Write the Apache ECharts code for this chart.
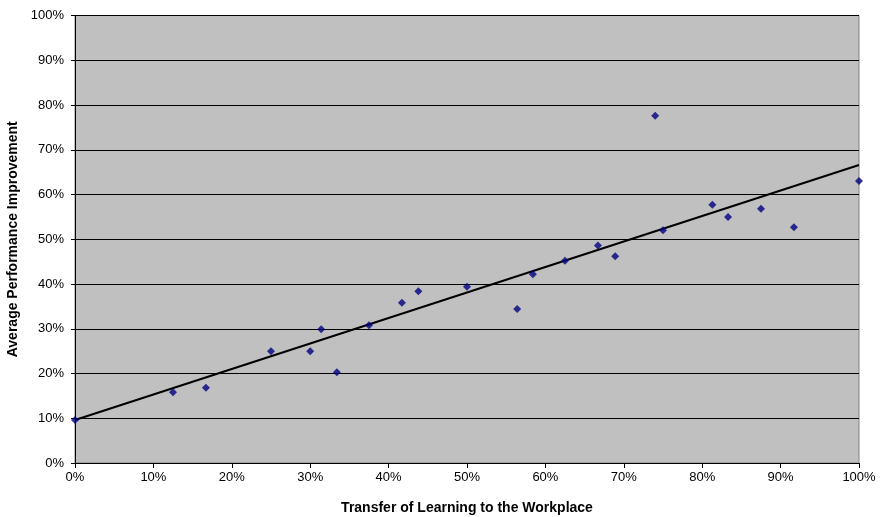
<!DOCTYPE html>
<html><head><meta charset="utf-8">
<script src="https://cdn.jsdelivr.net/npm/echarts@6/dist/echarts.min.js"></script>
<style>html,body{margin:0;padding:0;background:#fff}#c{width:880px;height:517px}</style>
</head><body><div id="c"></div>
<script>
const transfer = [0, 12.5, 16.7, 25.0, 30.0, 31.4, 33.4, 37.5, 41.7, 43.8, 50.0, 56.4, 58.4, 62.5, 66.7, 68.9, 74.0, 75.0, 81.3, 83.3, 87.5, 91.7, 100];
const improvement = [9.6, 15.8, 16.8, 25.0, 25.0, 29.9, 20.3, 30.8, 35.8, 38.4, 39.4, 34.4, 42.2, 45.2, 48.6, 46.2, 77.6, 52.0, 57.7, 55.0, 56.8, 52.7, 63.0];
const trendX = [0, 100];
const trendY = [9.6, 66.6];

const chart = echarts.init(document.getElementById('c'));
const font = 'Liberation Sans, Arial, sans-serif';
chart.setOption({
  animation: false,
  grid: {left: 75, top: 15.5, right: 21, bottom: 54, outerBoundsMode: 'none', containLabel: false, show: true, backgroundColor: '#C0C0C0', borderColor: '#808080', borderWidth: 1},
  xAxis: {
    type: 'value', min: 0, max: 100, interval: 10,
    name: 'Transfer of Learning to the Workplace', nameLocation: 'middle', nameGap: 38,
    nameTextStyle: {fontFamily: font, fontWeight: 'bold', fontSize: 14, color: '#000'},
    axisLine: {show: true, lineStyle: {color: '#000', width: 1}},
    axisTick: {show: true, length: 5, lineStyle: {color: '#000'}},
    axisLabel: {fontFamily: font, fontSize: 13, color: '#000', margin: 8, formatter: v => v + '%'},
    splitLine: {show: false}
  },
  yAxis: {
    type: 'value', min: 0, max: 100, interval: 10,
    name: 'Average Performance Improvement', nameLocation: 'middle', nameGap: 49,
    nameTextStyle: {fontFamily: font, fontWeight: 'bold', fontSize: 14, color: '#000'},
    axisLine: {show: true, lineStyle: {color: '#000', width: 1}},
    axisTick: {show: true, length: 4, lineStyle: {color: '#000'}},
    axisLabel: {fontFamily: font, fontSize: 13, color: '#000', margin: 11, formatter: v => v + '%'},
    splitLine: {show: true, lineStyle: {color: '#000', width: 1}}
  },
  series: [
    {type: 'line', data: trendX.map((x,i)=>[x,trendY[i]]), symbol: 'none', lineStyle: {color: '#000', width: 2}, z: 2},
    {type: 'scatter', data: transfer.map((x,i)=>[x,improvement[i]]), symbol: 'diamond', symbolSize: 8, itemStyle: {color: '#000080'}, z: 3}
  ]
});
</script></body></html>
